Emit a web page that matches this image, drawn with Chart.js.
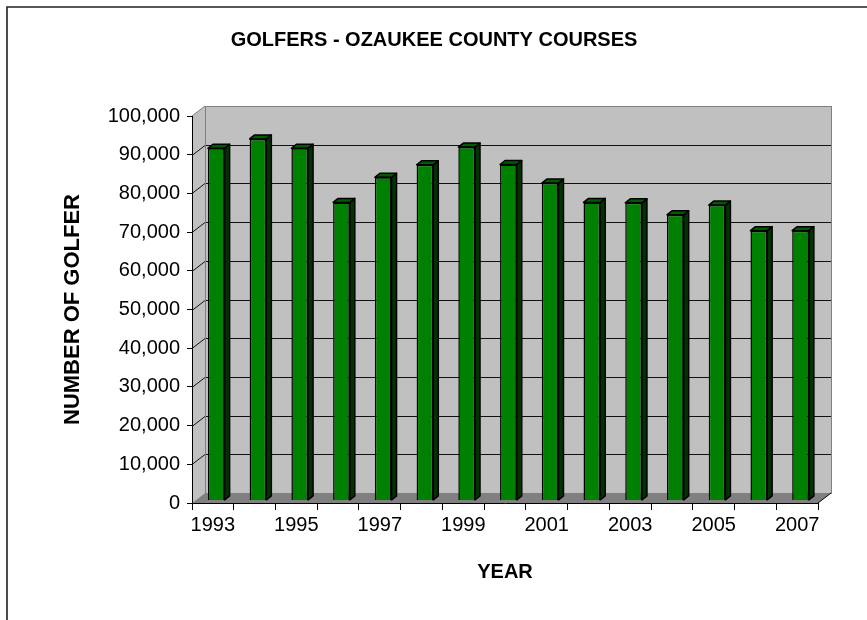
<!DOCTYPE html>
<html>
<head>
<meta charset="utf-8">
<script src="https://cdn.jsdelivr.net/npm/chart.js@4/dist/chart.umd.min.js"></script>
<style>
  html, body { margin: 0; padding: 0; background: #fff; }
  canvas { display: block; }
</style>
</head>
<body>
<canvas id="chart" width="867" height="620"></canvas>
<script>
const years = ['1993', '1994', '1995', '1996', '1997', '1998', '1999', '2000',
               '2001', '2002', '2003', '2004', '2005', '2006', '2007'];
const golfers = [91000, 93400, 91000, 77000, 83500, 86700, 91300, 86800,
                 82000, 77000, 76900, 73800, 76300, 69700, 69700];
const yTicks = [0, 10000, 20000, 30000, 40000, 50000, 60000, 70000, 80000, 90000, 100000];
const shownYears = ['1993', '1995', '1997', '1999', '2001', '2003', '2005', '2007'];

// depth of the walls and of the bars (pixels)
const WALL_DX = 13, WALL_DY = 10;
const BAR_DX = 5, BAR_DY = 4;
const BAR_SHIFT_X = 3.4, BAR_SHIFT_Y = -2.6;

const fontFamily = '"Liberation Sans", Arial, sans-serif';

const walls3d = {
    id: 'walls3d',
    beforeDraw(chart) {
        const ctx = chart.ctx;
        const { left, right, top, bottom } = chart.chartArea;
        const yScale = chart.scales.y;
        ctx.save();
        ctx.fillStyle = '#fff';
        ctx.fillRect(0, 0, chart.width, chart.height);

        // outer frame, only top and left are visible
        ctx.strokeStyle = '#222';
        ctx.lineWidth = 1.6;
        ctx.beginPath();
        ctx.moveTo(7, chart.height + 5);
        ctx.lineTo(7, 7);
        ctx.lineTo(chart.width + 5, 7);
        ctx.stroke();

        ctx.lineWidth = 1;
        ctx.strokeStyle = '#808080';
        // back wall
        ctx.fillStyle = '#c0c0c0';
        ctx.fillRect(left + WALL_DX, top - WALL_DY, right - left, bottom - top);
        // side wall
        ctx.beginPath();
        ctx.moveTo(left, top);
        ctx.lineTo(left + WALL_DX, top - WALL_DY);
        ctx.lineTo(left + WALL_DX, bottom - WALL_DY);
        ctx.lineTo(left, bottom);
        ctx.closePath();
        ctx.fill();
        // floor
        ctx.fillStyle = '#808080';
        ctx.beginPath();
        ctx.moveTo(left, bottom);
        ctx.lineTo(left + WALL_DX, bottom - WALL_DY);
        ctx.lineTo(right + WALL_DX, bottom - WALL_DY);
        ctx.lineTo(right, bottom);
        ctx.closePath();
        ctx.fill();

        // gridlines on side and back wall
        ctx.strokeStyle = '#111';
        yTicks.forEach(v => {
            if (v === 0 || v === 100000) return;
            const py = Math.round(yScale.getPixelForValue(v)) + 0.5;
            ctx.beginPath();
            ctx.moveTo(left, py);
            ctx.lineTo(left + WALL_DX, py - WALL_DY);
            ctx.lineTo(right + WALL_DX, py - WALL_DY);
            ctx.stroke();
        });

        // wall outlines
        ctx.strokeStyle = '#808080';
        ctx.strokeRect(left + WALL_DX + 0.5, top - WALL_DY + 0.5, right - left, bottom - top);
        ctx.beginPath();
        ctx.moveTo(left, top);
        ctx.lineTo(left + WALL_DX, top - WALL_DY);
        ctx.stroke();
        ctx.strokeStyle = '#000';
        ctx.beginPath();
        ctx.moveTo(right, bottom);
        ctx.lineTo(right + WALL_DX, bottom - WALL_DY);
        ctx.stroke();
        ctx.restore();
    },
    beforeDatasetsDraw(chart) {
        chart.ctx.save();
        chart.ctx.translate(BAR_SHIFT_X, BAR_SHIFT_Y);
    },
    afterDatasetsDraw(chart) {
        const ctx = chart.ctx;
        const meta = chart.getDatasetMeta(0);
        ctx.lineWidth = 1.5;
        ctx.strokeStyle = '#000';
        ctx.lineJoin = 'round';
        meta.data.forEach(bar => {
            const { x, y, base, width } = bar.getProps(['x', 'y', 'base', 'width'], true);
            const l = x - width / 2, r = x + width / 2;
            // side face
            ctx.fillStyle = '#003300';
            ctx.beginPath();
            ctx.moveTo(r, y);
            ctx.lineTo(r + BAR_DX, y - BAR_DY);
            ctx.lineTo(r + BAR_DX, base - BAR_DY);
            ctx.lineTo(r, base);
            ctx.closePath();
            ctx.fill();
            ctx.stroke();
            // top face
            ctx.fillStyle = '#005a00';
            ctx.beginPath();
            ctx.moveTo(l, y);
            ctx.lineTo(l + BAR_DX, y - BAR_DY);
            ctx.lineTo(r + BAR_DX, y - BAR_DY);
            ctx.lineTo(r, y);
            ctx.closePath();
            ctx.fill();
            ctx.stroke();
        });
        ctx.restore();
    }
};

new Chart(document.getElementById('chart'), {
    type: 'bar',
    data: {
        labels: years,
        datasets: [{
            data: golfers,
            backgroundColor: '#008000',
            borderColor: '#000',
            borderWidth: 1.5,
            barPercentage: 0.4,
            categoryPercentage: 1.0
        }]
    },
    options: {
        responsive: false,
        animation: false,
        devicePixelRatio: 1,
        layout: { padding: { left: 50, right: 49, top: 0, bottom: 0 } },
        plugins: {
            legend: { display: false },
            tooltip: { enabled: false },
            title: {
                display: true,
                text: 'GOLFERS - OZAUKEE COUNTY COURSES',
                color: '#000',
                font: { family: fontFamily, size: 20, weight: 'bold' },
                padding: { top: 28, bottom: 64 }
            }
        },
        scales: {
            x: {
                grid: { drawOnChartArea: false, drawTicks: true, tickLength: 7, color: '#000', offset: true },
                border: { display: true, color: '#000', width: 1 },
                ticks: {
                    color: '#000',
                    autoSkip: false,
                    maxRotation: 0,
                    padding: 3,
                    font: { family: fontFamily, size: 20 },
                    callback: (v, i) => shownYears.includes(years[i]) ? years[i] : ''
                },
                title: {
                    display: true,
                    text: 'YEAR',
                    color: '#000',
                    font: { family: fontFamily, size: 20, weight: 'bold' },
                    padding: { top: 0, bottom: 36 }
                },
                afterFit: s => { s.height = 117; }
            },
            y: {
                min: 0,
                max: 100000,
                afterBuildTicks: s => { s.ticks = yTicks.map(v => ({ value: v })); },
                grid: { drawOnChartArea: false, drawTicks: true, tickLength: 5, color: '#000' },
                border: { display: true, color: '#000', width: 1 },
                ticks: {
                    color: '#000',
                    padding: 7,
                    font: { family: fontFamily, size: 20 },
                    callback: v => v.toLocaleString('en-US')
                },
                title: {
                    display: true,
                    text: 'NUMBER OF GOLFER',
                    color: '#000',
                    font: { family: fontFamily, size: 22, weight: 'bold' },
                    padding: { top: 10, bottom: 0 }
                },
                afterFit: s => { s.width = 142; }
            }
        }
    },
    plugins: [walls3d]
});
</script>
</body>
</html>
